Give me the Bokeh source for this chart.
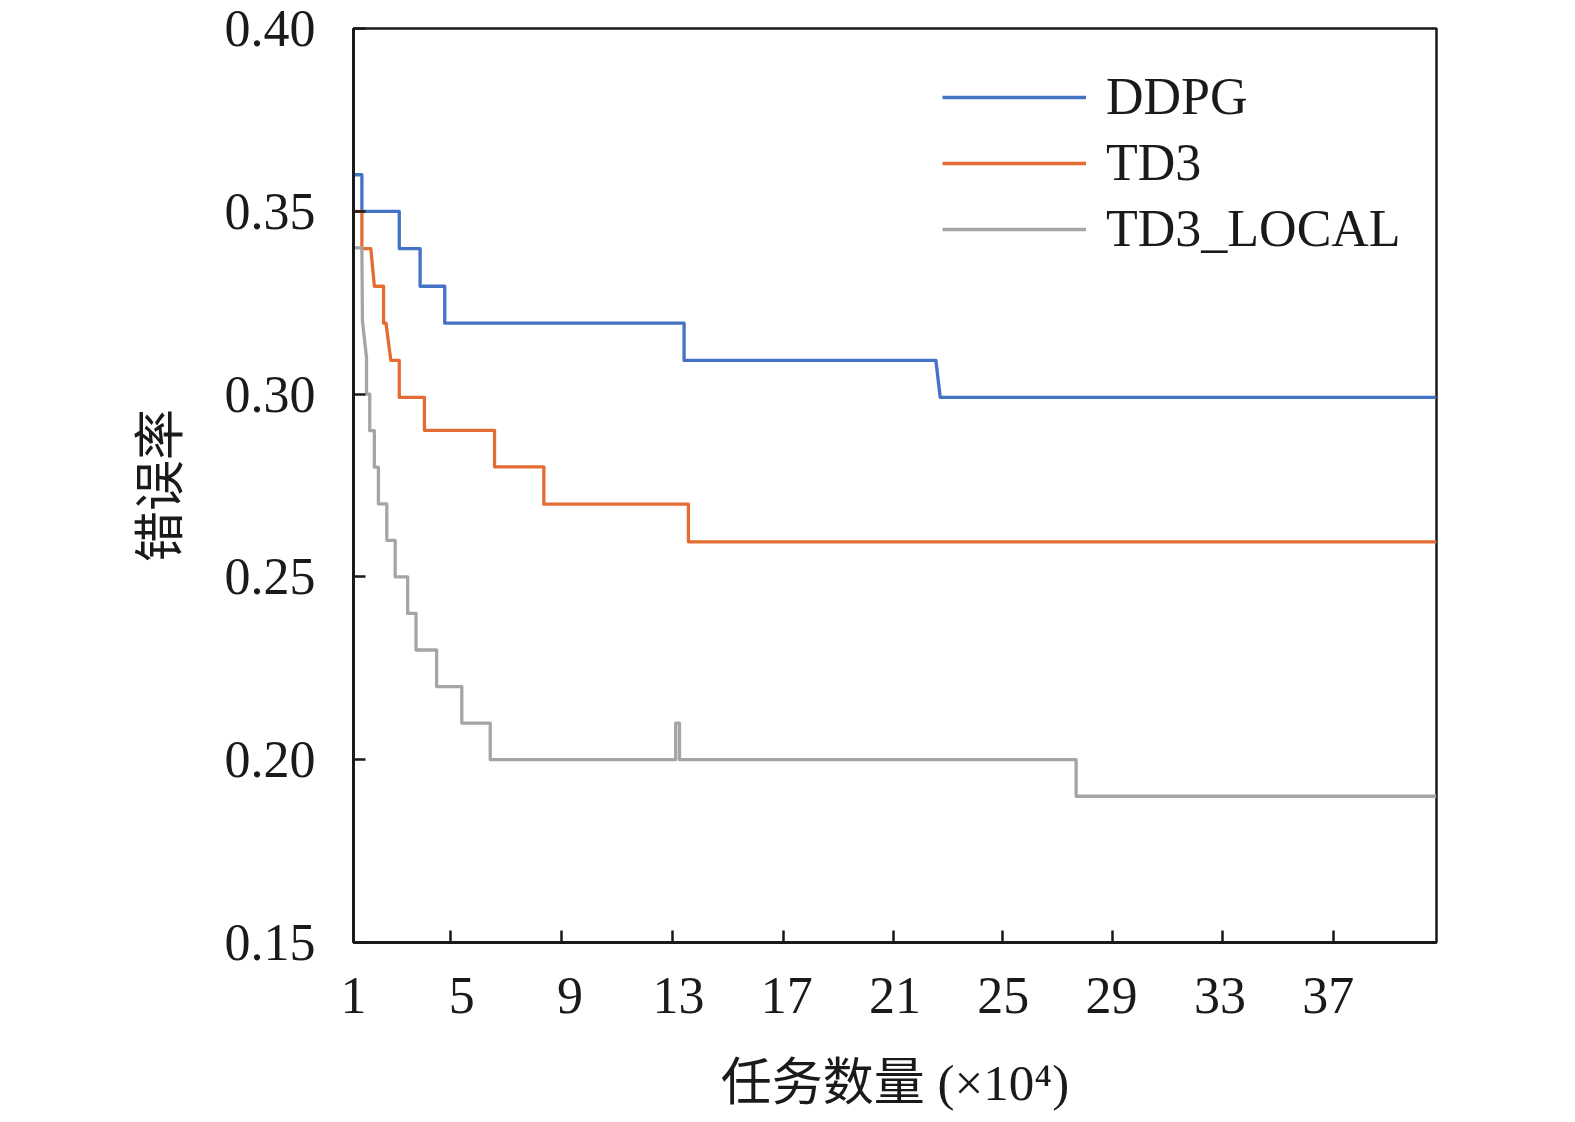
from bokeh.plotting import figure
from bokeh.models import Range1d, FixedTicker, PrintfTickFormatter, Legend, LegendItem
from bokeh.embed import file_html
from bokeh.resources import INLINE

# ---- data ----
series_names = ["DDPG", "TD3", "TD3_LOCAL"]
series_colors = ["#4472C4", "#E46C33", "#A5A5A5"]

ddpg_x = [1.0, 1.31, 1.31, 2.69, 2.69, 3.46, 3.46, 4.37, 4.37, 13.21, 13.21, 22.51, 22.67, 41.0]
ddpg_y = [0.360, 0.360, 0.350, 0.350, 0.3398, 0.3398, 0.3295, 0.3295, 0.3194, 0.3194, 0.3092, 0.3092, 0.2991, 0.2991]

td3_x = [1.0, 1.31, 1.31, 1.64, 1.77, 2.11, 2.11, 2.20, 2.38, 2.69, 2.69, 3.62, 3.62, 6.21, 6.21, 8.03, 8.03, 13.37, 13.37, 41.0]
td3_y = [0.350, 0.350, 0.3398, 0.3398, 0.3295, 0.3295, 0.3194, 0.3194, 0.3092, 0.3092, 0.2991, 0.2991, 0.2901, 0.2901, 0.2801, 0.2801, 0.2699, 0.2699, 0.2596, 0.2596]

local_x = [1.0, 1.31, 1.33, 1.48, 1.48, 1.60, 1.60, 1.77, 1.77, 1.92, 1.92, 2.23, 2.23, 2.54, 2.54,
           3.00, 3.00, 3.31, 3.31, 4.07, 4.07, 5.00, 5.00, 6.05, 6.05, 12.90, 12.90, 13.04, 13.04,
           27.69, 27.69, 41.0]
local_y = [0.340, 0.340, 0.320, 0.310, 0.300, 0.300, 0.290, 0.290, 0.280, 0.280, 0.270, 0.270, 0.260, 0.260, 0.250,
           0.250, 0.240, 0.240, 0.230, 0.230, 0.220, 0.220, 0.210, 0.210, 0.200, 0.200, 0.210, 0.210, 0.200,
           0.200, 0.190, 0.190]

x_ticks = [1, 5, 9, 13, 17, 21, 25, 29, 33, 37]                 # label positions
x_tick_marks = [4.59, 8.67, 12.78, 16.87, 20.93, 24.96, 29.03, 33.09, 37.19]  # tick-mark positions
y_ticks = [0.15, 0.20, 0.25, 0.30, 0.35, 0.40]
x_label = "任务数量 (×10⁴)"
y_label = "错误率"

SERIF = "'Liberation Serif', 'Noto Sans CJK SC'"
CJK = "'Noto Sans CJK SC'"
INK = "#1a1a1a"

W, H = 1570, 1120
FL, FR, FT, FB = 353, 1436, 28, 942
p = figure(width=W, height=H, output_backend="svg", toolbar_location=None,
           x_range=Range1d(1, 41), y_range=Range1d(0.15, 0.40),
           min_border_left=FL, min_border_right=W - FR, min_border_top=FT,
           min_border_bottom=H - FB)
p.background_fill_color = "white"
p.border_fill_color = "white"
p.outline_line_color = INK
p.outline_line_width = 2.5
p.xgrid.visible = False
p.ygrid.visible = False

r1 = p.line(ddpg_x, ddpg_y, line_color=series_colors[0], line_width=3.3, line_join="round")
r2 = p.line(td3_x, td3_y, line_color=series_colors[1], line_width=3.3, line_join="round")
r3 = p.line(local_x, local_y, line_color=series_colors[2], line_width=3.3, line_join="round")

for ax in (p.xaxis[0], p.yaxis[0]):
    ax.axis_line_color = INK
    ax.axis_line_width = 3
    ax.major_tick_line_color = INK
    ax.major_tick_line_width = 2.5
    ax.major_tick_in = 12
    ax.major_tick_out = 0
    ax.minor_tick_line_color = None
    ax.major_label_text_font = SERIF
    ax.major_label_text_font_size = "52px"
    ax.major_label_text_color = INK
    ax.axis_label_text_font_size = "51px"
    ax.axis_label_text_font_style = "normal"
    ax.axis_label_text_color = INK

# x: labels at label positions, tick marks (as minor ticks) at their own positions
p.xaxis.ticker = FixedTicker(ticks=x_ticks, minor_ticks=x_tick_marks)
p.xaxis.major_tick_line_color = None
p.xaxis.minor_tick_line_color = INK
p.xaxis.minor_tick_line_width = 2.5
p.xaxis.minor_tick_in = 12
p.xaxis.minor_tick_out = 0

p.yaxis.ticker = FixedTicker(ticks=y_ticks)
p.yaxis.formatter = PrintfTickFormatter(format="%.2f")
p.xaxis.major_label_standoff = 35
p.yaxis.major_label_standoff = 38
p.xaxis.axis_label = x_label
p.yaxis.axis_label = y_label
p.xaxis.axis_label_text_font = SERIF
p.yaxis.axis_label_text_font = CJK
p.xaxis.axis_label_standoff = 39
p.yaxis.axis_label_standoff = 29

legend = Legend(items=[LegendItem(label=series_names[0], renderers=[r1]),
                       LegendItem(label=series_names[1], renderers=[r2]),
                       LegendItem(label=series_names[2], renderers=[r3])],
                location=(589, 684), orientation="vertical",
                glyph_width=144, glyph_height=50, label_height=50, spacing=7,
                label_standoff=20, padding=0, margin=0,
                label_text_font=SERIF, label_text_font_size="52px", label_text_color=INK,
                border_line_alpha=0, background_fill_alpha=0)
p.add_layout(legend, "center")

open("out.html", "w").write(file_html(p, INLINE))
